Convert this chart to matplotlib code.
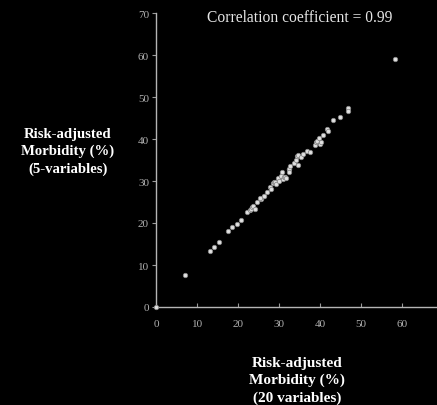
import matplotlib
matplotlib.use("Agg")
import matplotlib.pyplot as plt

# risk-adjusted morbidity: 20-variable model (x) vs 5-variable model (y)
morb_20 = [0.0, 7.1, 13.2, 14.1, 15.4, 17.6, 18.6, 19.7, 20.7, 22.1, 22.9, 23.2,
           23.3, 23.7, 24.1, 24.6, 25.5, 25.4, 26.2, 26.4, 27.0, 27.8, 28.0, 28.5,
           28.8, 29.0, 29.3, 29.8, 30.0, 30.4, 30.6, 30.9, 31.1, 31.5, 31.7, 32.3,
           32.4, 32.5, 32.7, 33.7, 34.0, 34.3, 34.5, 34.5, 35.3, 35.8, 36.8, 37.6,
           38.7, 38.9, 39.3, 39.6, 39.9, 40.2, 40.6, 41.7, 41.9, 43.2, 44.7, 46.7,
           46.7, 58.3]
morb_5 = [0.0, 7.6, 13.3, 14.2, 15.4, 18.2, 19.0, 19.8, 20.8, 22.6, 23.1, 23.3,
          23.7, 24.1, 23.3, 24.9, 25.7, 26.0, 26.5, 26.5, 27.5, 28.6, 28.1, 29.5,
          29.7, 29.8, 29.3, 30.7, 30.1, 31.3, 32.1, 30.5, 31.0, 30.9, 30.6, 32.9,
          32.9, 32.2, 33.6, 34.4, 34.9, 36.0, 36.2, 33.8, 35.6, 36.4, 37.1, 36.9,
          38.6, 39.2, 39.5, 40.2, 38.8, 39.4, 41.0, 42.5, 41.8, 44.6, 45.2, 47.5,
          46.7, 59.0]

x_ticks = [0, 10, 20, 30, 40, 50, 60]
y_ticks = [0, 10, 20, 30, 40, 50, 60, 70]

plt.rcParams['font.family'] = ['Liberation Serif', 'DejaVu Serif']

fig = plt.figure(figsize=(4.37, 4.06), dpi=100, facecolor='black')
ax = fig.add_axes([156 / 437, 98 / 406, 281 / 437, 294 / 406], facecolor='black')

ax.scatter(morb_20, morb_5, s=10, c='#e0e0e0', edgecolors='#8a8a8a',
           linewidths=0.6, zorder=3, clip_on=False)

ax.set_xlim(0, 68.45)
ax.set_ylim(0, 70)
ax.set_xticks(x_ticks)
ax.set_yticks(y_ticks)
ax.tick_params(axis='both', colors='#9a9a9a', labelsize=8, length=3, width=0.8)
ax.tick_params(axis='x', direction='in', pad=9)
ax.tick_params(axis='y', direction='out', pad=2)
for lbl in ax.get_xticklabels() + ax.get_yticklabels():
    lbl.set_color('#b0b0b0')

for side in ['top', 'right']:
    ax.spines[side].set_visible(False)
for side in ['left', 'bottom']:
    ax.spines[side].set_color('#b5b5b5')
    ax.spines[side].set_linewidth(1.0)

fig.text(300 / 437, 1 - 18 / 406, 'Correlation coefficient = 0.99',
         color='#e6e6e6', fontsize=11.2, ha='center', va='center')

fig.text(68 / 437, 1 - 152 / 406, 'Risk-adjusted\nMorbidity (%)\n(5-variables)',
         color='white', fontsize=10.6, fontweight='bold', ha='center', va='center',
         linespacing=1.35)
fig.text(297 / 437, 1 - 381 / 406, 'Risk-adjusted\nMorbidity (%)\n(20 variables)',
         color='white', fontsize=11, fontweight='bold', ha='center', va='center',
         linespacing=1.35)

fig.savefig('out.png', dpi=100, facecolor='black')
